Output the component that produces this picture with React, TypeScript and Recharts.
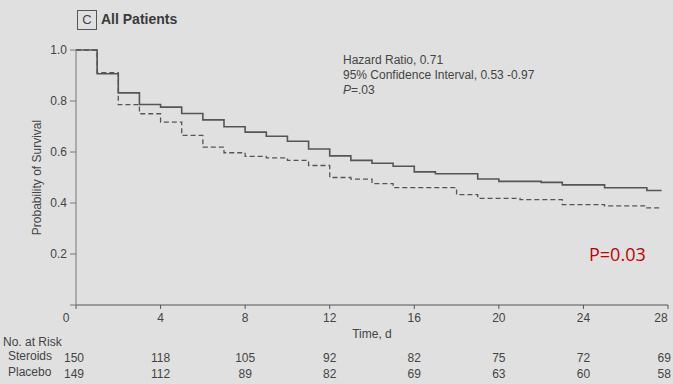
import React from 'react';
import { LineChart, Line, XAxis, YAxis, Label } from 'recharts';

const steroidDays = [0, 1, 2, 3, 4, 5, 6, 7, 8, 9, 10, 11, 12, 13, 14, 15, 16, 17, 19, 20, 22, 23, 25, 27, 27.7];
const steroidSurv = [1.0, 0.907, 0.832, 0.786, 0.776, 0.751, 0.726, 0.699, 0.678, 0.662, 0.642, 0.612, 0.585, 0.567, 0.556, 0.544, 0.522, 0.515, 0.494, 0.485, 0.481, 0.471, 0.46, 0.449, 0.449];

const placeboDays = [0, 1, 2, 3, 4, 5, 6, 7, 8, 9, 10, 11, 12, 13, 14, 15, 18, 19, 21, 23, 25, 27, 27.7];
const placeboSurv = [1.0, 0.911, 0.786, 0.75, 0.717, 0.665, 0.619, 0.597, 0.583, 0.577, 0.567, 0.547, 0.5, 0.494, 0.476, 0.46, 0.433, 0.418, 0.413, 0.394, 0.389, 0.381, 0.381];

const xTicks = [0, 4, 8, 12, 16, 20, 24, 28];
const yTicks = [0, 0.2, 0.4, 0.6, 0.8, 1.0];
const steroidsAtRisk = [150, 118, 105, 92, 82, 75, 72, 69];
const placeboAtRisk = [149, 112, 89, 82, 69, 63, 60, 58];

const steroidData = steroidDays.map((d, i) => ({ day: d, surv: steroidSurv[i] }));
const placeboData = placeboDays.map((d, i) => ({ day: d, surv: placeboSurv[i] }));

const FONT = '"Liberation Sans", Arial, sans-serif';
const TEXT = '#444';
const LINE = '#555';

// x tick draws the day label plus the two at-risk numbers beneath it
const TimeTick = (props: any) => {
  const { x, y, payload, index } = props;
  const shift = payload.value === 0 ? -10 : payload.value === 28 ? -4 : 0;
  return (
    <g fontFamily={FONT} fontSize={12} fill={TEXT}>
      <text x={x + shift} y={y} dy="0.71em" textAnchor="middle" fill={TEXT}>{payload.value}</text>
      <text x={x + shift / 5} y={y + 49} textAnchor="middle" fill={TEXT}>{steroidsAtRisk[index]}</text>
      <text x={x + shift / 5} y={y + 65} textAnchor="middle" fill={TEXT}>{placeboAtRisk[index]}</text>
    </g>
  );
};

const App: React.FC = () => {
  return (
    <div style={{ position: 'absolute', left: 0, top: 0, width: 673, height: 384, background: '#e0e0e0', fontFamily: FONT, color: TEXT }}>
      <LineChart width={673} height={384} margin={{ top: 50, right: 5, bottom: 0, left: 0 }}>
        <XAxis
          dataKey="day"
          type="number"
          domain={[0, 28]}
          ticks={xTicks}
          allowDataOverflow
          stroke={LINE}
          tickSize={4}
          tickMargin={4}
          tick={<TimeTick />}
          height={79}
        >
          <Label value="Time, d" position="insideTop" offset={24} style={{ fontFamily: FONT, fontSize: 12, fill: TEXT }} />
        </XAxis>
        <YAxis
          type="number"
          domain={[0, 1]}
          ticks={yTicks}
          tickFormatter={(v: number) => (v === 0 ? '' : v.toFixed(1))}
          stroke="#777"
          tickSize={6}
          tickMargin={3}
          width={76}
          tick={{ fontFamily: FONT, fontSize: 12, fill: TEXT }}
        >
          <Label
            value="Probability of Survival"
            angle={-90}
            position="insideLeft"
            offset={37}
            style={{ fontFamily: FONT, fontSize: 12, fill: TEXT, textAnchor: 'middle' }}
          />
        </YAxis>
        <Line
          data={steroidData}
          dataKey="surv"
          type="stepAfter"
          stroke={LINE}
          strokeWidth={1.6}
          dot={false}
          isAnimationActive={false}
        />
        <Line
          data={placeboData}
          dataKey="surv"
          type="stepAfter"
          stroke={LINE}
          strokeWidth={1.3}
          strokeDasharray="5 3"
          dot={false}
          isAnimationActive={false}
        />
      </LineChart>

      <div style={{ position: 'absolute', left: 77, top: 10, width: 18, height: 18, border: '1px solid #555', fontSize: 13, lineHeight: '18px', textAlign: 'center' }}>C</div>
      <div style={{ position: 'absolute', left: 101, top: 11, fontSize: 14, fontWeight: 600, color: '#3a3a3a' }}>All Patients</div>

      <div style={{ position: 'absolute', left: 343, top: 53, fontSize: 12, lineHeight: '15px' }}>
        <div>Hazard Ratio, 0.71</div>
        <div>95% Confidence Interval, 0.53 -0.97</div>
        <div><i>P</i>=.03</div>
      </div>

      <div style={{ position: 'absolute', left: 589, top: 242, fontSize: 18, color: '#c00000', fontFamily: '"Open Sans", sans-serif' }}>P=0.03</div>

      <div style={{ position: 'absolute', left: 3, top: 335, fontSize: 12 }}>No. at Risk</div>
      <div style={{ position: 'absolute', left: 8, top: 349, fontSize: 12 }}>Steroids</div>
      <div style={{ position: 'absolute', left: 8, top: 365, fontSize: 12 }}>Placebo</div>
    </div>
  );
};

export default App;
